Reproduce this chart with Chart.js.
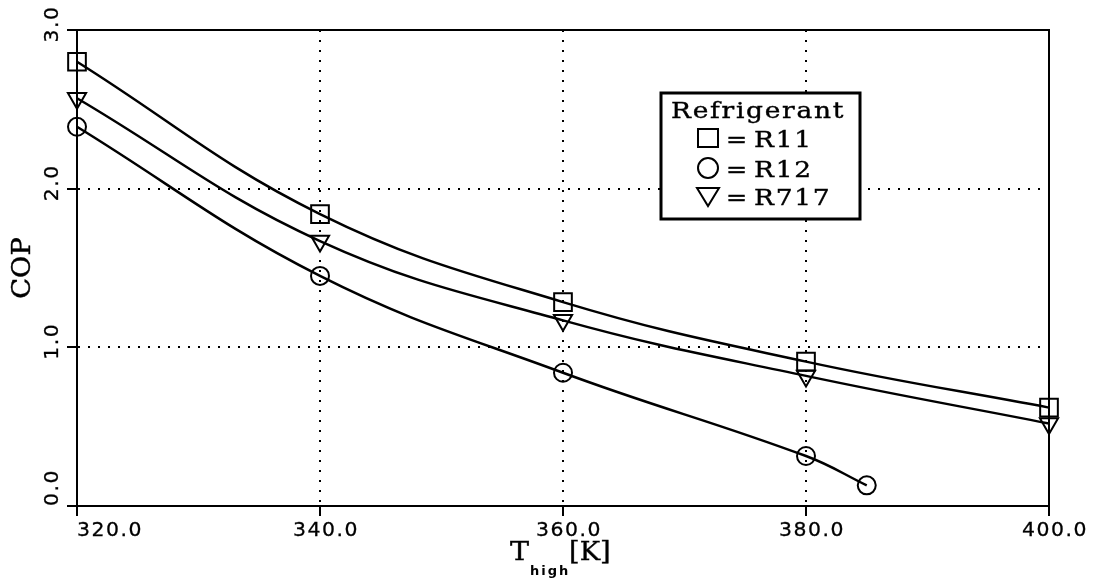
<!DOCTYPE html>
<html>
<head>
<meta charset="utf-8">
<script src="https://cdn.jsdelivr.net/npm/chart.js@4/dist/chart.umd.min.js"></script>
<style>
  html, body { margin: 0; padding: 0; background: #fff; }
  #wrap { width: 1094px; height: 581px; }
</style>
</head>
<body>
<div id="wrap"><canvas id="copChart" width="1094" height="581"></canvas></div>
<script>
// values
const tR11 = [320, 340, 360, 380, 400];
const copR11 = [2.80, 1.84, 1.285, 0.91, 0.62];
const tR12 = [320, 340, 360, 380, 385];
const copR12 = [2.39, 1.45, 0.84, 0.315, 0.13];
const tR717 = [320, 340, 360, 380, 400];
const copR717 = [2.57, 1.67, 1.17, 0.82, 0.52];

const xTicks = [320, 340, 360, 380, 400];
const xTickLabels = ['320.0', '340.0', '360.0', '380.0', '400.0'];
const yTicks = [0, 1, 2, 3];
const yTickLabels = ['0.0', '1.0', '2.0', '3.0'];

const legendTitle = 'Refrigerant';
const legendNames = ['R11', 'R12', 'R717'];

const toXY = (xs, ys) => xs.map((x, i) => ({ x: x, y: ys[i] }));

function series(label, xs, ys, style, radius) {
  return {
    label: label,
    data: toXY(xs, ys),
    borderColor: '#000',
    borderWidth: 2.5,
    backgroundColor: 'rgba(0,0,0,0)',
    tension: 0.4,
    clip: false,
    pointStyle: style,
    pointRadius: radius,
    pointBorderWidth: 2,
    pointBorderColor: '#000',
    pointBackgroundColor: 'rgba(0,0,0,0)',
    pointRotation: style === 'triangle' ? 180 : 0
  };
}

// text stretched a bit sideways, like the plotter font
function wideText(ctx, text, x, y, align, sx, rot, weight) {
  ctx.save();
  ctx.translate(x, y);
  if (rot) ctx.rotate(rot);
  ctx.scale(sx, 1);
  ctx.textAlign = align;
  ctx.fillText(text, 0, 0);
  if (weight) {
    ctx.lineWidth = weight;
    ctx.strokeText(text, 0, 0);
  }
  ctx.restore();
}

// frame, tick labels, axis titles and the boxed legend
const decorations = {
  id: 'decorations',
  afterDraw(chart) {
    const ctx = chart.ctx;
    const a = chart.chartArea;
    const xs = chart.scales.x, ys = chart.scales.y;
    ctx.save();

    ctx.strokeStyle = '#000';
    ctx.lineWidth = 2;
    ctx.strokeRect(a.left, a.top, a.right - a.left, a.bottom - a.top);

    ctx.fillStyle = '#000';
    ctx.font = '20px "DejaVu Sans", sans-serif';
    ctx.letterSpacing = '1.5px';
    ctx.textBaseline = 'middle';
    xTicks.forEach((v, i) => {
      const px = xs.getPixelForValue(v);
      if (i === 0) wideText(ctx, xTickLabels[i], px, 531, 'left', 1.02, 0, 0.3);
      else wideText(ctx, xTickLabels[i], px + 6, 531, 'center', 1.02, 0, 0.3);
    });
    yTicks.forEach((v, i) => {
      const py = ys.getPixelForValue(v);
      if (i === 0) wideText(ctx, yTickLabels[i], 53, py, 'left', 1.02, -Math.PI / 2, 0.3);
      else wideText(ctx, yTickLabels[i], 53, py - 6, 'center', 1.02, -Math.PI / 2, 0.3);
    });

    // axis titles
    ctx.letterSpacing = '0px';
    ctx.font = '26px "DejaVu Serif", serif';
    wideText(ctx, 'COP', 23, (a.top + a.bottom) / 2, 'center', 1.05, -Math.PI / 2, 0.4);

    const cx = (a.left + a.right) / 2;
    ctx.textBaseline = 'alphabetic';
    wideText(ctx, 'T', cx - 53, 560, 'left', 1.1, 0, 0.4);
    ctx.font = 'bold 13px "DejaVu Sans", sans-serif';
    ctx.letterSpacing = '2px';
    wideText(ctx, 'high', cx - 33, 575, 'left', 1);
    ctx.letterSpacing = '0px';
    ctx.font = '26px "DejaVu Serif", serif';
    wideText(ctx, '[K]', cx + 6, 560, 'left', 1.05, 0, 0.4);

    // legend box
    const bx = 661, by = 93, bw = 199, bh = 126;
    ctx.fillStyle = '#fff';
    ctx.fillRect(bx, by, bw, bh);
    ctx.lineWidth = 3;
    ctx.strokeRect(bx, by, bw, bh);
    ctx.fillStyle = '#000';
    ctx.font = '23px "DejaVu Serif", serif';
    ctx.letterSpacing = '1.5px';
    wideText(ctx, legendTitle, 671, 118, 'left', 1.15, 0, 0.4);
    const rows = [147, 177, 205];
    legendNames.forEach((name, i) => {
      const base = rows[i];
      const sx = 708, sy = base - 9;
      ctx.lineWidth = 2;
      ctx.beginPath();
      if (i === 0) {
        ctx.rect(sx - 10, sy - 9, 20, 18);
      } else if (i === 1) {
        ctx.arc(sx, sy, 10, 0, Math.PI * 2);
      } else {
        ctx.moveTo(sx - 11, sy - 8);
        ctx.lineTo(sx + 11, sy - 8);
        ctx.lineTo(sx, sy + 10);
        ctx.closePath();
      }
      ctx.stroke();
      wideText(ctx, '=', 726, base, 'left', 1.1, 0, 0.4);
      wideText(ctx, name, 754, base, 'left', 1.15, 0, 0.4);
    });

    ctx.restore();
  }
};

const gridOpts = {
  color: '#000',
  lineWidth: 2,
  drawTicks: true,
  tickLength: 10,
  tickColor: '#000',
  tickWidth: 2,
  tickBorderDash: []
};

new Chart(document.getElementById('copChart').getContext('2d'), {
  type: 'line',
  data: {
    datasets: [
      series('R11', tR11, copR11, 'rect', 12.5),
      series('R12', tR12, copR12, 'circle', 9),
      series('R717', tR717, copR717, 'triangle', 10.5)
    ]
  },
  options: {
    responsive: false,
    animation: false,
    layout: { padding: { left: 0, top: 30, right: 45, bottom: 0 } },
    plugins: { legend: { display: false }, tooltip: { enabled: false } },
    scales: {
      x: {
        type: 'linear',
        min: 320,
        max: 400,
        afterBuildTicks: (s) => { s.ticks = xTicks.map(v => ({ value: v })); },
        afterFit: (s) => { s.height = 75; },
        ticks: { display: false },
        grid: gridOpts,
        border: { display: true, color: '#000', width: 2, dash: [2, 8] }
      },
      y: {
        type: 'linear',
        min: 0,
        max: 3,
        afterBuildTicks: (s) => { s.ticks = yTicks.map(v => ({ value: v })); },
        afterFit: (s) => { s.width = 77; },
        ticks: { display: false },
        grid: gridOpts,
        border: { display: true, color: '#000', width: 2, dash: [2, 8] }
      }
    }
  },
  plugins: [decorations]
});
</script>
</body>
</html>
